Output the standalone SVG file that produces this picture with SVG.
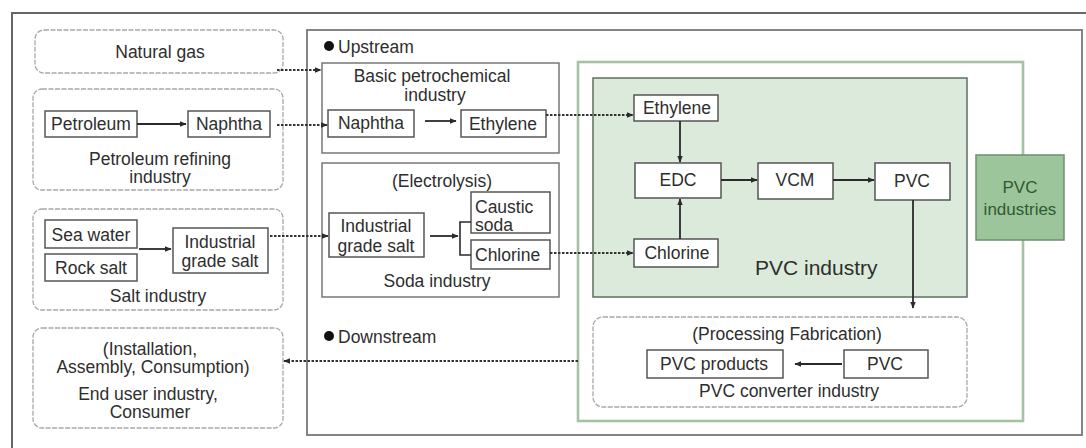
<svg xmlns="http://www.w3.org/2000/svg" width="1086" height="448" viewBox="0 0 1086 448">
<defs>
<marker id="ah" viewBox="0 0 10 10" refX="9" refY="5" markerWidth="7" markerHeight="7" markerUnits="userSpaceOnUse" orient="auto"><path d="M0,1 L10,5 L0,9 z" fill="#2a2a2a"/></marker>
<style>
text{font-family:"Liberation Sans",Arial,sans-serif;font-size:17.5px;fill:#2e2e2e;text-anchor:middle}
.l{text-anchor:start}
.box{fill:#fff;stroke:#555;stroke-width:1.5}
.rbox{fill:#fff;stroke:#a8a8a8;stroke-width:1.3;stroke-dasharray:5 1.5}
.ar{fill:none;stroke:#2a2a2a;stroke-width:1.8;marker-end:url(#ah)}
.dt{fill:none;stroke:#333;stroke-width:2;stroke-dasharray:2.5 1.5;marker-end:url(#ah)}
.ln{fill:none;stroke:#2a2a2a;stroke-width:1.6}
</style>
</defs>
<rect width="1086" height="448" fill="#fff"/>
<g id="frames">
<rect x="12" y="13" width="1090" height="450" fill="#fff" stroke="#666" stroke-width="2"/>
<rect x="307" y="30" width="775" height="405" fill="#fff" stroke="#777" stroke-width="1.8"/>
<rect x="578" y="62" width="445" height="359" fill="#fff" stroke="#a6c2a6" stroke-width="2.6"/>
<rect x="593" y="78" width="374" height="219" fill="#dbeadb" stroke="#5f6f5f" stroke-width="1.5"/>
<circle cx="329" cy="46" r="5" fill="#111"/>
<text class="l" x="338" y="53">Upstream</text>
<circle cx="329" cy="336" r="5" fill="#111"/>
<text class="l" x="338" y="343">Downstream</text>
<text class="l" x="755" y="275" style="font-size:21px">PVC industry</text>
</g>
<g id="natural-gas">
<rect class="rbox" x="35" y="30" width="248" height="43" rx="9"/>
<text x="160" y="58">Natural gas</text>
</g>
<g id="petroleum-refining">
<rect class="rbox" x="33" y="89" width="250" height="101" rx="9"/>
<rect class="box" x="45" y="111" width="92" height="26"/>
<text x="91" y="130">Petroleum</text>
<rect class="box" x="188" y="111" width="82" height="26"/>
<text x="229" y="130">Naphtha</text>
<text x="160" y="165">Petroleum refining</text>
<text x="160" y="183">industry</text>
</g>
<g id="salt-industry">
<rect class="rbox" x="33" y="209" width="250" height="101" rx="9"/>
<rect class="box" x="45" y="220" width="92" height="28"/>
<text x="91" y="241">Sea water</text>
<rect class="box" x="45" y="254" width="92" height="27"/>
<text x="91" y="274">Rock salt</text>
<rect class="box" x="173" y="228" width="95" height="45"/>
<text x="220" y="248">Industrial</text>
<text x="220" y="267">grade salt</text>
<text x="158" y="302">Salt industry</text>
</g>
<g id="end-user">
<rect class="rbox" x="33" y="328" width="250" height="100" rx="9"/>
<text x="150" y="355">(Installation,</text>
<text x="153" y="373">Assembly, Consumption)</text>
<text x="148" y="400">End user industry,</text>
<text x="150" y="418">Consumer</text>
</g>
<g id="basic-petrochemical">
<rect class="box" x="322" y="63" width="237" height="90" style="stroke:#777"/>
<text x="432" y="82">Basic petrochemical</text>
<text x="435" y="101">industry</text>
<rect class="box" x="328" y="110" width="86" height="27"/>
<text x="371" y="129">Naphtha</text>
<rect class="box" x="461" y="110" width="85" height="27"/>
<text x="503" y="130">Ethylene</text>
</g>
<g id="soda-industry">
<rect class="box" x="322" y="163" width="237" height="134" style="stroke:#777"/>
<text x="442" y="187">(Electrolysis)</text>
<rect class="box" x="329" y="213" width="95" height="44"/>
<text x="376" y="232">Industrial</text>
<text x="376" y="252">grade salt</text>
<rect class="box" x="471" y="192" width="79" height="41"/>
<text class="l" x="475" y="213">Caustic</text>
<text class="l" x="475" y="231">soda</text>
<rect class="box" x="471" y="240" width="79" height="29"/>
<text class="l" x="475" y="261">Chlorine</text>
<text x="437" y="287">Soda industry</text>
</g>
<g id="pvc-industry">
<rect class="box" x="634" y="95" width="84" height="26"/>
<text x="677" y="114">Ethylene</text>
<rect class="box" x="635" y="163" width="86" height="35"/>
<text x="678" y="186">EDC</text>
<rect class="box" x="758" y="163" width="75" height="36"/>
<text x="795" y="186">VCM</text>
<rect class="box" x="875" y="163" width="75" height="37"/>
<text x="912" y="187">PVC</text>
<rect class="box" x="634" y="239" width="84" height="28"/>
<text x="677" y="259">Chlorine</text>
</g>
<g id="pvc-industries">
<rect x="976" y="155" width="88" height="85" fill="#9cc59c" stroke="#6f8f6f" stroke-width="1.5"/>
<text x="1020" y="193" style="fill:#2f5a2f;font-size:17px">PVC</text>
<text x="1020" y="215" style="fill:#2f5a2f;font-size:17px">industries</text>
</g>
<g id="pvc-converter">
<rect class="rbox" x="593" y="317" width="374" height="90" rx="10"/>
<text x="787" y="340">(Processing Fabrication)</text>
<rect class="box" x="647" y="350" width="136" height="28"/>
<text x="714" y="370">PVC products</text>
<rect class="box" x="844" y="350" width="84" height="28"/>
<text x="885" y="370">PVC</text>
<text x="789" y="397">PVC converter industry</text>
</g>
<g id="connectors">
<line class="ar" x1="137" y1="124" x2="186" y2="124"/>
<line class="ar" x1="139" y1="249" x2="171" y2="249"/>
<line class="ar" x1="425" y1="121" x2="456" y2="121"/>
<line class="ar" x1="430" y1="236" x2="458" y2="236"/>
<path class="ln" d="M471,222 H460 V255 H471"/>
<path class="dt" d="M277,70 H321"/>
<path class="dt" d="M277,125 H327"/>
<path class="dt" d="M270,236 H328"/>
<path class="dt" d="M546,115 H633"/>
<path class="dt" d="M550,253 H633"/>
<line class="ar" x1="680" y1="121" x2="680" y2="162"/>
<line class="ar" x1="680" y1="239" x2="680" y2="199"/>
<line class="ar" x1="721" y1="180" x2="757" y2="180"/>
<line class="ar" x1="833" y1="180" x2="874" y2="180"/>
<line class="ar" x1="913" y1="200" x2="913" y2="308"/>
<line class="ar" x1="842" y1="364" x2="795" y2="364"/>
<path class="dt" d="M578,361 H284"/>
</g>
</svg>
